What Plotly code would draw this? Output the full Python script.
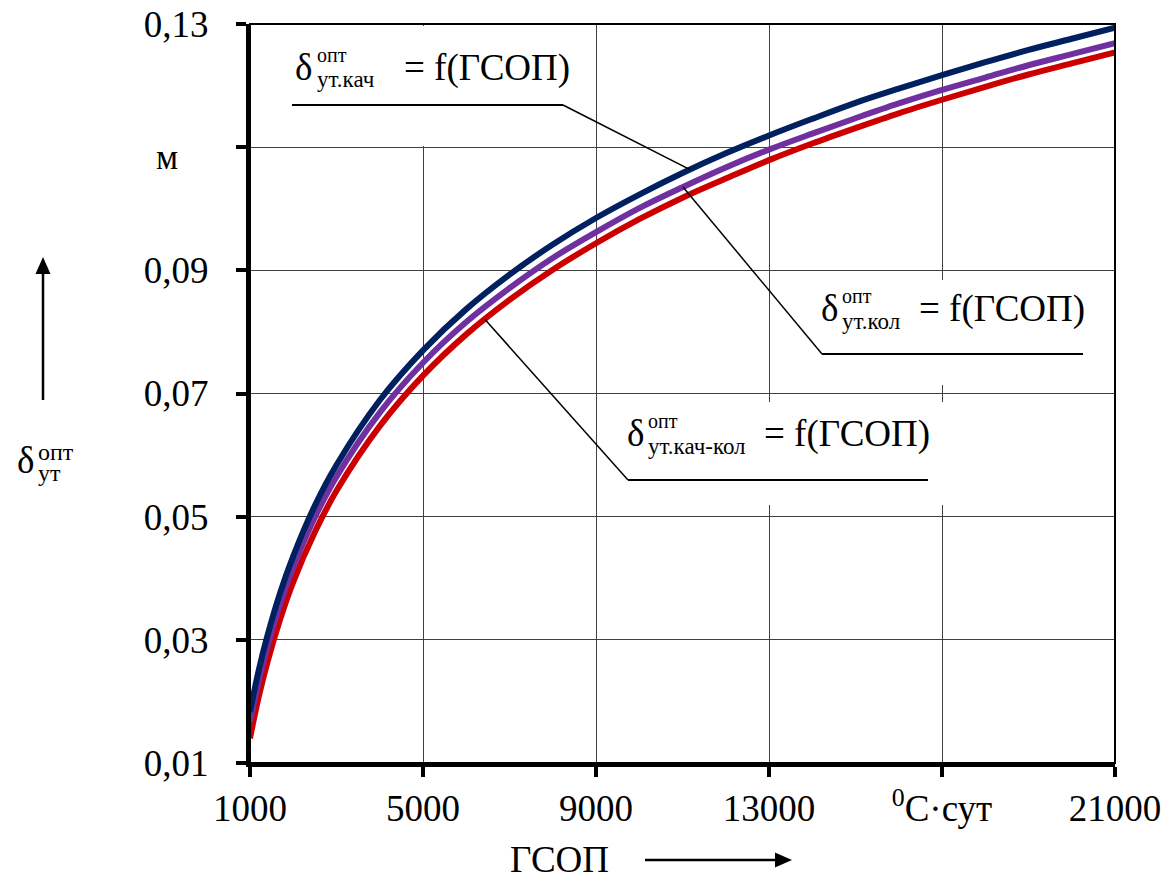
import numpy as np
import plotly.graph_objects as go

# ---- data ----
gsop = [1000, 1200, 1400, 1700, 2000, 2500, 3000, 4000, 5000, 6000, 7000, 8000,
        9000, 10000, 11000, 12000, 13000, 14000, 15000, 16000, 17000, 18000,
        19000, 20000, 21000]
delta_kach = [0.0183, 0.0250, 0.0306, 0.0377, 0.0436, 0.0518, 0.0584, 0.0689,
              0.0770, 0.0837, 0.0893, 0.0942, 0.0985, 0.1023, 0.1058, 0.1090,
              0.1119, 0.1146, 0.1172, 0.1195, 0.1217, 0.1238, 0.1258, 0.1276,
              0.1294]
delta_kol = [0.0167, 0.0233, 0.0289, 0.0359, 0.0418, 0.0499, 0.0565, 0.0669,
             0.0750, 0.0816, 0.0871, 0.0920, 0.0962, 0.1001, 0.1035, 0.1067,
             0.1096, 0.1122, 0.1147, 0.1171, 0.1193, 0.1213, 0.1233, 0.1251,
             0.1269]
delta_kach_kol = [0.0140, 0.0207, 0.0263, 0.0334, 0.0394, 0.0475, 0.0542, 0.0647,
                  0.0729, 0.0796, 0.0852, 0.0901, 0.0944, 0.0983, 0.1018, 0.1049,
                  0.1079, 0.1106, 0.1131, 0.1155, 0.1177, 0.1198, 0.1218, 0.1236,
                  0.1254]

x_tickvals = [1000, 5000, 9000, 13000, 17000, 21000]
x_ticktext = ["1000", "5000", "9000", "13000", "<sup>0</sup>C·сут", "21000"]
y_tickvals = [0.01, 0.03, 0.05, 0.07, 0.09, 0.11, 0.13]
y_ticktext = ["0,01", "0,03", "0,05", "0,07", "0,09", " ", "0,13"]

# ---- layout geometry ----
W, H = 1173, 881
L, R, T, B = 250, 58, 24, 118
PW, PH = W - L - R, H - T - B
XMIN, XMAX, YMIN, YMAX = 1000, 21000, 0.01, 0.13
FONT = "Liberation Serif"

def px(xp):
    return (xp - L) / PW

def py(yp):
    return (T + PH - yp) / PH

def dx(xp):
    return XMIN + (xp - L) / PW * (XMAX - XMIN)

def dy(yp):
    return YMIN + (T + PH - yp) / PH * (YMAX - YMIN)

BLUE, PURPLE, RED = "#002060", "#7030A0", "#CC0000"

fig = go.Figure()
for ys, col in [(delta_kach_kol, RED), (delta_kol, PURPLE), (delta_kach, BLUE)]:
    fig.add_trace(go.Scatter(x=gsop, y=ys, mode="lines",
                             line=dict(color=col, width=6, shape="spline", smoothing=1.0),
                             showlegend=False, hoverinfo="skip"))

shapes = []
# white boxes behind labels
for (x0, y0, x1, y1) in [(253, 26, 590, 146), (800, 280, 1095, 385), (600, 402, 945, 505)]:
    shapes.append(dict(type="rect", xref="paper", yref="paper",
                       x0=px(x0), x1=px(x1), y0=py(y1), y1=py(y0),
                       fillcolor="white", line=dict(width=0), layer="above"))
# frame top / right
shapes.append(dict(type="rect", xref="paper", yref="paper", x0=0, x1=1, y0=0, y1=1,
                   line=dict(color="black", width=2), layer="above"))

# underlines
for (a, b, yy) in [(292, 563, 105), (822, 1083, 354), (628, 928, 480)]:
    shapes.append(dict(type="line", xref="paper", yref="paper",
                       x0=px(a), x1=px(b), y0=py(yy), y1=py(yy),
                       line=dict(color="black", width=2), layer="above"))

# leader lines to curves (end points on the curves)
def on_curve(series, xpix):
    xv = dx(xpix)
    return xv, float(np.interp(xv, gsop, series))

for (sx, sy, series, ex) in [(563, 105, delta_kach, 690),
                             (822, 354, delta_kol, 683),
                             (628, 480, delta_kach_kol, 485)]:
    xe, ye = on_curve(series, ex)
    shapes.append(dict(type="line", xref="x", yref="y",
                       x0=dx(sx), y0=dy(sy), x1=xe, y1=ye,
                       line=dict(color="black", width=1.5), layer="above"))

# arrows (axis direction markers)
shapes.append(dict(type="line", xref="paper", yref="paper",
                   x0=px(43), x1=px(43), y0=py(400), y1=py(272),
                   line=dict(color="black", width=2.5)))
shapes.append(dict(type="path", xref="paper", yref="paper",
                   path=f"M {px(43)} {py(257)} L {px(35.5)} {py(274)} L {px(50.5)} {py(274)} Z",
                   fillcolor="black", line=dict(width=0)))
shapes.append(dict(type="line", xref="paper", yref="paper",
                   x0=px(645), x1=px(776), y0=py(860), y1=py(860),
                   line=dict(color="black", width=2.5)))
shapes.append(dict(type="path", xref="paper", yref="paper",
                   path=f"M {px(792)} {py(860)} L {px(775)} {py(852.5)} L {px(775)} {py(867.5)} Z",
                   fillcolor="black", line=dict(width=0)))

annotations = []

def txt(text, xp, yc, size, xanchor="left"):
    annotations.append(dict(text=text, xref="paper", yref="paper", x=px(xp), y=py(yc),
                            xanchor=xanchor, yanchor="middle", showarrow=False,
                            borderpad=0,
                            font=dict(family=FONT, size=size, color="black")))

def label(xd, yc, sub, xs, xeq, sup_size=20, sub_size=23):
    txt("δ", xd, yc, 37)
    txt("опт", xs, yc - 12, sup_size)
    txt(sub, xs, yc + 13, sub_size)
    txt("= f(ГСОП)", xeq, yc + 1, 37)

label(294, 67, "ут.кач", 316, 403)
label(820, 308, "ут.кол", 841, 918)
label(626, 433, "ут.кач-кол", 647, 763)

# y-axis label
txt("δ", 35, 460, 37, xanchor="right")
txt("опт", 37, 452, 24)
txt("ут", 37, 473, 24)
# x-axis label
txt("ГСОП", 559, 859, 37, xanchor="center")
# unit on y axis
txt("м", 167, 158, 35, xanchor="center")

fig.update_layout(
    width=W, height=H,
    margin=dict(l=L, r=R, t=T, b=B, autoexpand=False),
    plot_bgcolor="white", paper_bgcolor="white",
    shapes=shapes, annotations=annotations,
    font=dict(family=FONT, size=37, color="black"),
    xaxis=dict(range=[XMIN, XMAX], tickmode="array", tickvals=x_tickvals, ticktext=x_ticktext,
               showgrid=True, gridcolor="#404040", gridwidth=1, automargin=False,
               showline=True, linecolor="black", linewidth=4,
               ticks="outside", ticklen=10, tickwidth=4, tickcolor="black",
               ticklabelstandoff=0, zeroline=False,
               tickfont=dict(family=FONT, size=37, color="black")),
    yaxis=dict(range=[YMIN, YMAX], tickmode="array", tickvals=y_tickvals, ticktext=y_ticktext,
               showgrid=True, gridcolor="#404040", gridwidth=1, automargin=False,
               showline=True, linecolor="black", linewidth=4,
               ticks="outside", ticklen=10, tickwidth=4, tickcolor="black",
               ticklabelstandoff=20, zeroline=False,
               tickfont=dict(family=FONT, size=37, color="black")),
)

fig.write_html("out.html")
